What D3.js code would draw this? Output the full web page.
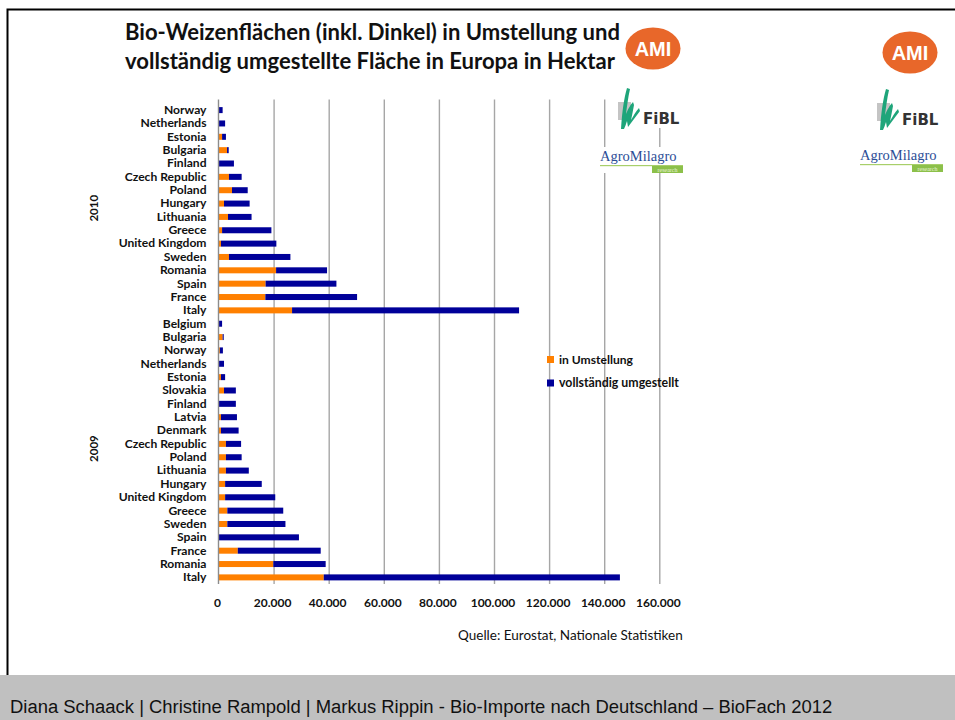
<!DOCTYPE html>
<html>
<head>
<meta charset="utf-8">
<script src="https://cdn.jsdelivr.net/npm/d3@7"></script>
<style>
  body { margin: 0; background: #fff; }
  svg { display: block; }
  .cat text, .xt text { font-family: Lato, "Open Sans", sans-serif; font-weight: bold; fill: #111; }
</style>
</head>
<body>
<div class="chart"></div>
<script>
// data (hectares)
const countries2010 = ["Norway", "Netherlands", "Estonia", "Bulgaria", "Finland", "Czech Republic", "Poland", "Hungary",
  "Lithuania", "Greece", "United Kingdom", "Sweden", "Romania", "Spain", "France", "Italy"];
const umstellung2010 = [0, 0, 1300, 3100, 0, 3800, 4900, 2000, 3450, 1300, 900, 3800, 20900, 17100, 17000, 26700];
const umgestellt2010 = [1500, 2400, 1400, 600, 5600, 4600, 5700, 9300, 8550, 17900, 20100, 22300, 18500, 25700, 33300, 82400];

const countries2009 = ["Belgium", "Bulgaria", "Norway", "Netherlands", "Estonia", "Slovakia", "Finland", "Latvia", "Denmark",
  "Czech Republic", "Poland", "Lithuania", "Hungary", "United Kingdom", "Greece", "Sweden", "Spain", "France", "Romania", "Italy"];
const umstellung2009 = [0, 1500, 500, 0, 900, 2000, 0, 900, 900, 2700, 2700, 2700, 2400, 2400, 3200, 3200, 0, 7000, 19900, 38200];
const umgestellt2009 = [1300, 400, 1100, 2000, 1500, 4300, 6300, 5800, 6400, 5500, 5700, 8300, 13300, 18200, 20300, 21100, 29200, 30100, 19000, 107500];

const xTicks = [0, 20000, 40000, 60000, 80000, 100000, 120000, 140000, 160000];
const seriesNames = ["in Umstellung", "vollständig umgestellt"];
const seriesColors = ["#ff8000", "#000099"];

const W = 955, H = 720;
const plot = { left: 218.5, right: 659.3, top: 103.5, bottom: 584 };

const rows = [];
countries2010.forEach((c, i) => rows.push({ key: "2010|" + c, name: c, year: "2010", a: umstellung2010[i], b: umgestellt2010[i] }));
countries2009.forEach((c, i) => rows.push({ key: "2009|" + c, name: c, year: "2009", a: umstellung2009[i], b: umgestellt2009[i] }));

const svg = d3.select(".chart").append("svg")
  .attr("width", W)
  .attr("height", H);

const x = d3.scaleLinear().domain([0, 160000]).range([plot.left, plot.right]);
const y = d3.scaleBand().domain(rows.map(d => d.key)).range([plot.top, plot.bottom]).paddingInner(0.55).paddingOuter(0.27);

// slide frame + footer
svg.append("path")
  .attr("d", `M${W + 2},9.5 H7.5 V676`)
  .attr("fill", "none").attr("stroke", "#000").attr("stroke-width", 2);
svg.append("rect").attr("x", 0).attr("y", 675).attr("width", W).attr("height", 45).attr("fill", "#c0c0c0");
const footer = svg.append("text")
  .attr("x", 10).attr("y", 713)
  .style("font-family", "'Liberation Sans', Arial, sans-serif").style("font-size", "17px").attr("fill", "#111")
  .text("Diana Schaack | Christine Rampold | Markus Rippin - Bio-Importe nach Deutschland – BioFach 2012");
fitWidth(footer, 823, 17);

// title
const titleLines = ["Bio-Weizenflächen (inkl. Dinkel) in Umstellung und", "vollständig umgestellte Fläche in Europa in Hektar"];
titleLines.forEach((t, i) => {
  const el = svg.append("text")
    .attr("x", 125).attr("y", 40 + i * 29)
    .style("font-family", "Lato, 'Open Sans', sans-serif").style("font-weight", "bold").style("font-size", "19px")
    .attr("fill", "#111").text(t);
  fitWidth(el, i === 0 ? 495 : 490, 19);
});

// gridlines
const grid = svg.append("g").attr("transform", `translate(0,${plot.bottom})`)
  .call(d3.axisBottom(x).tickValues(xTicks.slice(1)).tickSize(-(plot.bottom - plot.top + 4)).tickFormat(""));
grid.select(".domain").remove();
grid.selectAll("line").attr("stroke", "#a6a6a6").attr("stroke-width", 1.4);

// x tick labels
const xt = svg.append("g").attr("class", "xt").attr("transform", `translate(0,${plot.bottom})`)
  .call(d3.axisBottom(x).tickValues(xTicks).tickSize(0).tickPadding(14)
    .tickFormat(d => d3.format(",")(d).replace(/,/g, ".")));
xt.select(".domain").remove();
xt.selectAll("text").style("font-size", "12px").attr("dx", -1.5);

// stacked bars
const bars = svg.append("g");
bars.selectAll("rect.a").data(rows).join("rect")
  .attr("class", "a")
  .attr("x", x(0)).attr("y", d => y(d.key))
  .attr("width", d => x(d.a) - x(0)).attr("height", y.bandwidth())
  .attr("fill", seriesColors[0]);
bars.selectAll("rect.b").data(rows).join("rect")
  .attr("class", "b")
  .attr("x", d => x(d.a)).attr("y", d => y(d.key))
  .attr("width", d => x(d.a + d.b) - x(d.a)).attr("height", y.bandwidth())
  .attr("fill", seriesColors[1]);

// category axis
const cat = svg.append("g").attr("class", "cat").attr("transform", `translate(${plot.left},0)`)
  .call(d3.axisLeft(y).tickSize(0).tickPadding(12).tickFormat(k => k.split("|")[1]));
cat.select(".domain").attr("stroke", "#8c8c8c").attr("stroke-width", 1.4)
  .attr("d", `M0,${plot.top - 4}V${plot.bottom}`);
cat.selectAll("text").style("font-size", "12.1px");

// year labels
[["2010", countries2010], ["2009", countries2009]].forEach(([yr, list]) => {
  const y0 = y(yr + "|" + list[0]), y1 = y(yr + "|" + list[list.length - 1]) + y.bandwidth();
  const cy = (y0 + y1) / 2 - 2;
  svg.append("text")
    .attr("transform", `translate(98,${cy}) rotate(-90)`)
    .attr("text-anchor", "middle")
    .style("font-family", "Lato, sans-serif").style("font-weight", "bold").style("font-size", "11.5px")
    .attr("fill", "#111").text(yr);
});

// legend
const legend = svg.append("g").attr("transform", "translate(547,356)");
seriesNames.forEach((n, i) => {
  const g = legend.append("g").attr("transform", `translate(0,${i * 23.5})`);
  g.append("rect").attr("width", 7).attr("height", 7).attr("fill", seriesColors[i]);
  const t = g.append("text").attr("x", 12).attr("y", 7.5)
    .style("font-family", "Lato, sans-serif").style("font-weight", "bold").style("font-size", "12px")
    .attr("fill", "#111").text(n);
  fitWidth(t, i === 0 ? 74 : 120, 12);
});

// source
const source = svg.append("text")
  .attr("x", 458).attr("y", 640)
  .style("font-family", "Lato, sans-serif").style("font-size", "12px").attr("fill", "#111")
  .text("Quelle: Eurostat, Nationale Statistiken");
fitWidth(source, 225, 12);

// logos
drawLogos(653, 48.5, 643, 124, 600, 161, true);
drawLogos(910, 52.5, 902, 125, 860, 160, false);

function drawLogos(amiX, amiY, fiblX, fiblY, agroX, agroY, cover) {
  const g = svg.append("g");
  if (cover) {
    g.append("rect").attr("x", 614).attr("y", 84).attr("width", 72).attr("height", 44).attr("fill", "#fff");
    g.append("rect").attr("x", 598).attr("y", 147).attr("width", 88).attr("height", 26).attr("fill", "#fff");
  }
  g.append("ellipse").attr("cx", amiX).attr("cy", amiY).attr("rx", 27.5).attr("ry", 21).attr("fill", "#e8672a");
  g.append("text").attr("x", amiX).attr("y", amiY + 7).attr("text-anchor", "middle")
    .style("font-family", "'Liberation Sans', Arial, sans-serif").style("font-weight", "bold").style("font-size", "20px")
    .attr("fill", "#fff").text("AMI");
  // FiBL mark: grey block and green brush strokes
  const lx = fiblX - 22, ly = fiblY;
  g.append("rect").attr("x", lx - 3).attr("y", ly - 22).attr("width", 13).attr("height", 18).attr("fill", "#c4c4c4");
  g.append("path")
    .attr("d", `M${lx},${ly + 5} C${lx + 1},${ly - 12} ${lx + 3},${ly - 26} ${lx + 6},${ly - 36}
      L${lx + 9},${ly - 35} C${lx + 7},${ly - 26} ${lx + 6},${ly - 18} ${lx + 5},${ly - 10}
      C${lx + 7},${ly - 15} ${lx + 10},${ly - 20} ${lx + 12},${ly - 22}
      L${lx + 13},${ly - 19} C${lx + 12},${ly - 14} ${lx + 11},${ly - 8} ${lx + 10},${ly - 4}
      C${lx + 13},${ly - 9} ${lx + 15},${ly - 13} ${lx + 18},${ly - 16}
      L${lx + 19},${ly - 13} C${lx + 15},${ly - 8} ${lx + 11},${ly - 2} ${lx + 7},${ly + 3}
      L${lx + 6},${ly - 3} C${lx + 5},${ly} ${lx + 4},${ly + 3} ${lx + 3},${ly + 5} Z`)
    .attr("fill", "#1ea57a");
  g.append("text").attr("x", fiblX).attr("y", fiblY)
    .style("font-family", "'DejaVu Sans', sans-serif").style("font-weight", "bold").style("font-size", "15px")
    .attr("fill", "#333").text("FiBL");
  // AgroMilagro
  g.append("text").attr("x", agroX).attr("y", agroY)
    .style("font-family", "'Liberation Serif', serif").style("font-size", "14.5px")
    .attr("fill", "#2b4d96").text("AgroMilagro");
  g.append("rect").attr("x", agroX).attr("y", agroY + 4).attr("width", 83).attr("height", 1.2).attr("fill", "#a8cf6a");
  g.append("rect").attr("x", agroX + 52).attr("y", agroY + 5).attr("width", 31).attr("height", 7).attr("fill", "#8cc04a");
  g.append("text").attr("x", agroX + 67.5).attr("y", agroY + 11).attr("text-anchor", "middle")
    .style("font-family", "'Liberation Serif', serif").style("font-size", "6px").attr("fill", "#e8f3d8").text("research");
}

function fitWidth(el, target, size) {
  const w = el.node().getComputedTextLength();
  if (w > 0) el.style("font-size", (size * target / w).toFixed(2) + "px");
}
</script>
</body>
</html>
